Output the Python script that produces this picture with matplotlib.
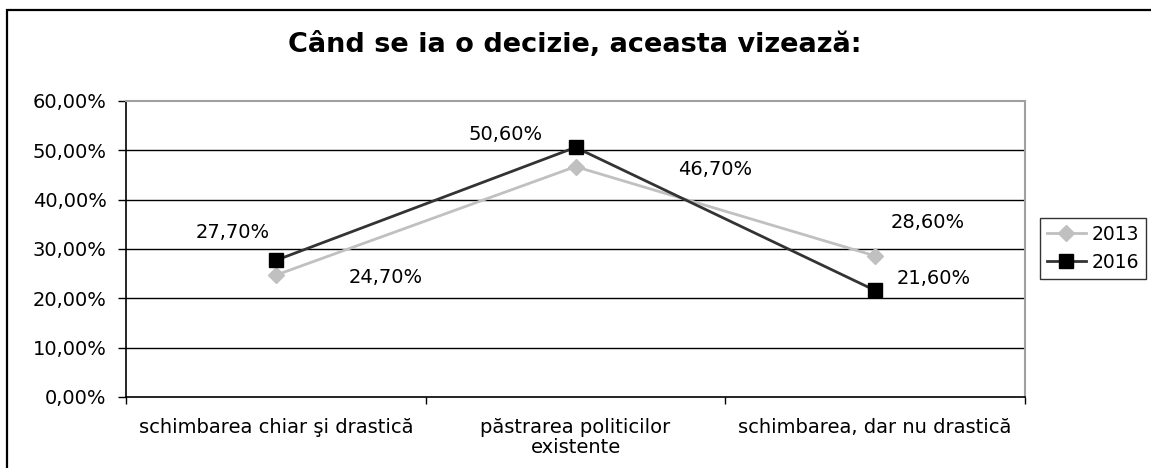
import matplotlib
matplotlib.use("Agg")
import matplotlib.pyplot as plt
from matplotlib.patches import Rectangle

plt.rcParams['font.family'] = ['DejaVu Sans']

# ---- data ----
title = "Când se ia o decizie, aceasta vizează:"
categories = ["schimbarea chiar şi drastică", "păstrarea politicilor\nexistente", "schimbarea, dar nu drastică"]
series_names = ["2013", "2016"]
values_2013 = [24.7, 46.7, 28.6]
values_2016 = [27.7, 50.6, 21.6]
y_ticks = [0, 10, 20, 30, 40, 50, 60]

# label offsets (pixels) - layout only
off_2013 = [(110, -2), (140, -3), (53, 33)]
off_2016 = [(-43, 28), (-70, 13), (59, 12)]

FS = 14
W, H = 1151, 468
fig = plt.figure(figsize=(W / 100, H / 100), dpi=100)
fig.patch.set_facecolor("white")

# outer frame (extends beyond right/bottom edges)
fig.patches.append(Rectangle((7 / W, -0.2), 1.2, 1.2 - 9.5 / H,
                             transform=fig.transFigure, fill=False,
                             edgecolor="black", linewidth=1.6, clip_on=False))

ax = fig.add_axes([126 / W, (H - 397) / H, (1025 - 126) / W, (397 - 101) / H])
ax.set_xlim(0, 3)
ax.set_ylim(0, 60)

xs = [i + 0.5 for i in range(len(categories))]

for yv in y_ticks[1:-1]:
    ax.axhline(yv, color="black", linewidth=1.0, zorder=1)

l13, = ax.plot(xs, values_2013, color="#c0c0c0", linewidth=2.0, marker="D",
               markersize=8.5, markerfacecolor="#c0c0c0", markeredgecolor="#c0c0c0", zorder=3)
l16, = ax.plot(xs, values_2016, color="#333333", linewidth=2.0, marker="s",
               markersize=10, markerfacecolor="black", markeredgecolor="black", zorder=4)

def fmt(v):
    return f"{v:.2f}%".replace(".", ",")

for x, v, (dx, dy) in zip(xs, values_2013, off_2013):
    ax.annotate(fmt(v), (x, v), xytext=(dx * 0.72, dy * 0.72), textcoords="offset points",
                ha="center", va="center", fontsize=FS, color="black")
for x, v, (dx, dy) in zip(xs, values_2016, off_2016):
    ax.annotate(fmt(v), (x, v), xytext=(dx * 0.72, dy * 0.72), textcoords="offset points",
                ha="center", va="center", fontsize=FS, color="black")

ax.set_yticks(y_ticks)
ax.set_yticklabels([fmt(t) for t in y_ticks], fontsize=FS)
ax.tick_params(axis="y", direction="out", length=6, width=1, pad=8, color="black")

ax.set_xticks([0, 1, 2, 3])
ax.set_xticklabels([])
ax.tick_params(axis="x", which="major", direction="out", length=5, width=1, color="black")
ax.set_xticks(xs, minor=True)
ax.set_xticklabels(categories, minor=True, fontsize=FS, linespacing=1.1)
ax.tick_params(axis="x", which="minor", length=0, pad=15)

for s in ["left", "bottom"]:
    ax.spines[s].set_color("black")
    ax.spines[s].set_linewidth(1.2)
for s in ["top", "right"]:
    ax.spines[s].set_color("#a0a0a0")
    ax.spines[s].set_linewidth(1.5)

fig.text(575 / W, 1 - 45 / H, title, ha="center", va="center",
         fontsize=19.5, fontweight="bold", color="black")

leg = fig.legend([l13, l16], series_names, loc="upper left",
                 bbox_to_anchor=(1040 / W, 1 - 218 / H), fontsize=13.5,
                 frameon=True, fancybox=False, borderpad=0.35, borderaxespad=0,
                 handlelength=2.1, handletextpad=0.3, labelspacing=0.5)
leg.get_frame().set_edgecolor("black")
leg.get_frame().set_linewidth(1.0)

fig.savefig("out.png", dpi=100)
